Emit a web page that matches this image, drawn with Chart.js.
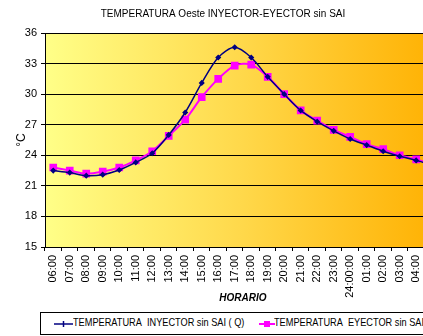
<!DOCTYPE html>
<html>
<head>
<meta charset="utf-8">
<script src="https://cdn.jsdelivr.net/npm/chart.js@4.4.1/dist/chart.umd.min.js"></script>
<style>
  html, body { margin: 0; padding: 0; background: #fff; overflow: hidden; }
  #wrap { position: relative; width: 423px; height: 336px; overflow: hidden; }
  #chart { position: absolute; left: 0; top: 0; }
  #leyenda {
    position: absolute; left: 40px; top: 312px; width: 430px; height: 21px;
    border: 1px solid #000; background: #fff;
    font: 11.5px 'Liberation Sans', Arial, sans-serif;
    color: #000; white-space: nowrap;
  }
  #leyenda span { position: absolute; top: 3px; transform: scaleX(0.8); transform-origin: left center; }
  #leyenda svg { position: absolute; top: 5px; }
</style>
</head>
<body>
<div id="wrap">
  <canvas id="chart" width="450" height="336"></canvas>
  <div id="leyenda">
    <svg style="left:13px" width="19" height="12">
      <line x1="0" y1="6" x2="19" y2="6" stroke="#000080" stroke-width="1.5"/>
      <line x1="9.5" y1="3" x2="9.5" y2="9" stroke="#000080" stroke-width="1.5"/>
    </svg>
    <span style="left:32px">TEMPERATURA&nbsp; INYECTOR sin SAI ( Q)</span>
    <svg style="left:218px" width="16" height="12">
      <line x1="0" y1="6" x2="16" y2="6" stroke="#FF00FF" stroke-width="2"/>
      <rect x="5" y="3" width="6" height="6" fill="#FF00FF"/>
    </svg>
    <span style="left:233px">TEMPERATURA&nbsp; EYECTOR sin SAI (F)</span>
  </div>
</div>
<script>
// horas de medición
var horas = ['06:00', '07:00', '08:00', '09:00', '10:00', '11:00', '12:00', '13:00',
  '14:00', '15:00', '16:00', '17:00', '18:00', '19:00', '20:00', '21:00', '22:00',
  '23:00', '24:00:00', '01:00', '02:00', '03:00', '04:00', '05:00'];

// temperaturas (°C)
var inyector = [22.5, 22.3, 22.0, 22.1, 22.55, 23.3, 24.2, 26.0, 28.2, 31.1, 33.6, 34.6,
  33.6, 31.7, 30.0, 28.4, 27.3, 26.4, 25.6, 25.0, 24.4, 23.9, 23.5, 23.0];
var eyector = [22.8, 22.5, 22.2, 22.4, 22.8, 23.5, 24.4, 25.9, 27.5, 29.7, 31.5, 32.8,
  32.9, 31.7, 30.0, 28.4, 27.4, 26.5, 25.8, 25.1, 24.6, 24.0, 23.6, 23.1];

var yMin = 15, yMax = 36, yPaso = 3;

var fuente = "'Liberation Sans', Arial, sans-serif";

// fondo degradado amarillo -> naranja en el area del grafico
var fondo = {
  id: 'fondo',
  beforeDraw: function(chart) {
    var a = chart.chartArea;
    var ctx = chart.ctx;
    var g = ctx.createLinearGradient(a.left, 0, a.right, 0);
    g.addColorStop(0, '#FFFF88');
    g.addColorStop(0.5, '#FFD84A');
    g.addColorStop(1, '#FFB000');
    ctx.save();
    ctx.fillStyle = g;
    ctx.fillRect(a.left, a.top, a.right - a.left, a.bottom - a.top);
    ctx.restore();
  }
};

var ctx = document.getElementById('chart').getContext('2d');
new Chart(ctx, {
  type: 'line',
  data: {
    labels: horas,
    datasets: [{
      label: 'TEMPERATURA  INYECTOR sin SAI ( Q)',
      data: inyector,
      borderColor: '#000080',
      backgroundColor: '#000080',
      borderWidth: 1.5,
      pointStyle: 'rectRot',
      pointRadius: 2,
      tension: 0.3
    }, {
      label: 'TEMPERATURA  EYECTOR sin SAI (F)',
      data: eyector,
      borderColor: '#FF00FF',
      backgroundColor: '#FF00FF',
      borderWidth: 2,
      pointStyle: 'rect',
      pointRadius: 4,
      tension: 0.3
    }]
  },
  options: {
    responsive: false,
    animation: false,
    devicePixelRatio: 1,
    layout: { padding: { left: 0, right: 4, top: 0, bottom: 0 } },
    plugins: {
      legend: { display: false },
      tooltip: { enabled: false },
      title: {
        display: true,
        text: 'TEMPERATURA Oeste INYECTOR-EYECTOR sin SAI',
        color: '#000',
        font: { family: fuente, size: 10, weight: 'normal', lineHeight: 1.2 },
        padding: { top: 8, bottom: 13 }
      }
    },
    scales: {
      x: {
        offset: true,
        grid: {
          offset: true,
          drawOnChartArea: false,
          drawTicks: true,
          tickLength: 4,
          color: '#000'
        },
        border: { color: '#000', width: 1 },
        ticks: {
          color: '#000',
          font: { family: fuente, size: 11 },
          minRotation: 90,
          maxRotation: 90,
          autoSkip: false,
          padding: 4
        },
        title: {
          display: true,
          text: 'HORARIO',
          color: '#000',
          font: { family: fuente, size: 10, weight: 'bold', style: 'italic', lineHeight: 1.2 },
          padding: { top: 0, bottom: 32 }
        },
        afterFit: function(scale) { scale.height = 89; }
      },
      y: {
        min: yMin,
        max: yMax,
        grid: {
          color: '#000',
          lineWidth: 1,
          tickLength: 4
        },
        border: { color: '#000', width: 1 },
        ticks: {
          stepSize: yPaso,
          color: '#000',
          font: { family: fuente, size: 11 },
          padding: 4
        },
        title: {
          display: true,
          text: '°C',
          color: '#000',
          font: { family: fuente, size: 12, lineHeight: 1.2 },
          padding: { top: 14, bottom: 0 }
        },
        afterFit: function(scale) { scale.width = 45; }
      }
    }
  },
  plugins: [fondo]
});
</script>
</body>
</html>
